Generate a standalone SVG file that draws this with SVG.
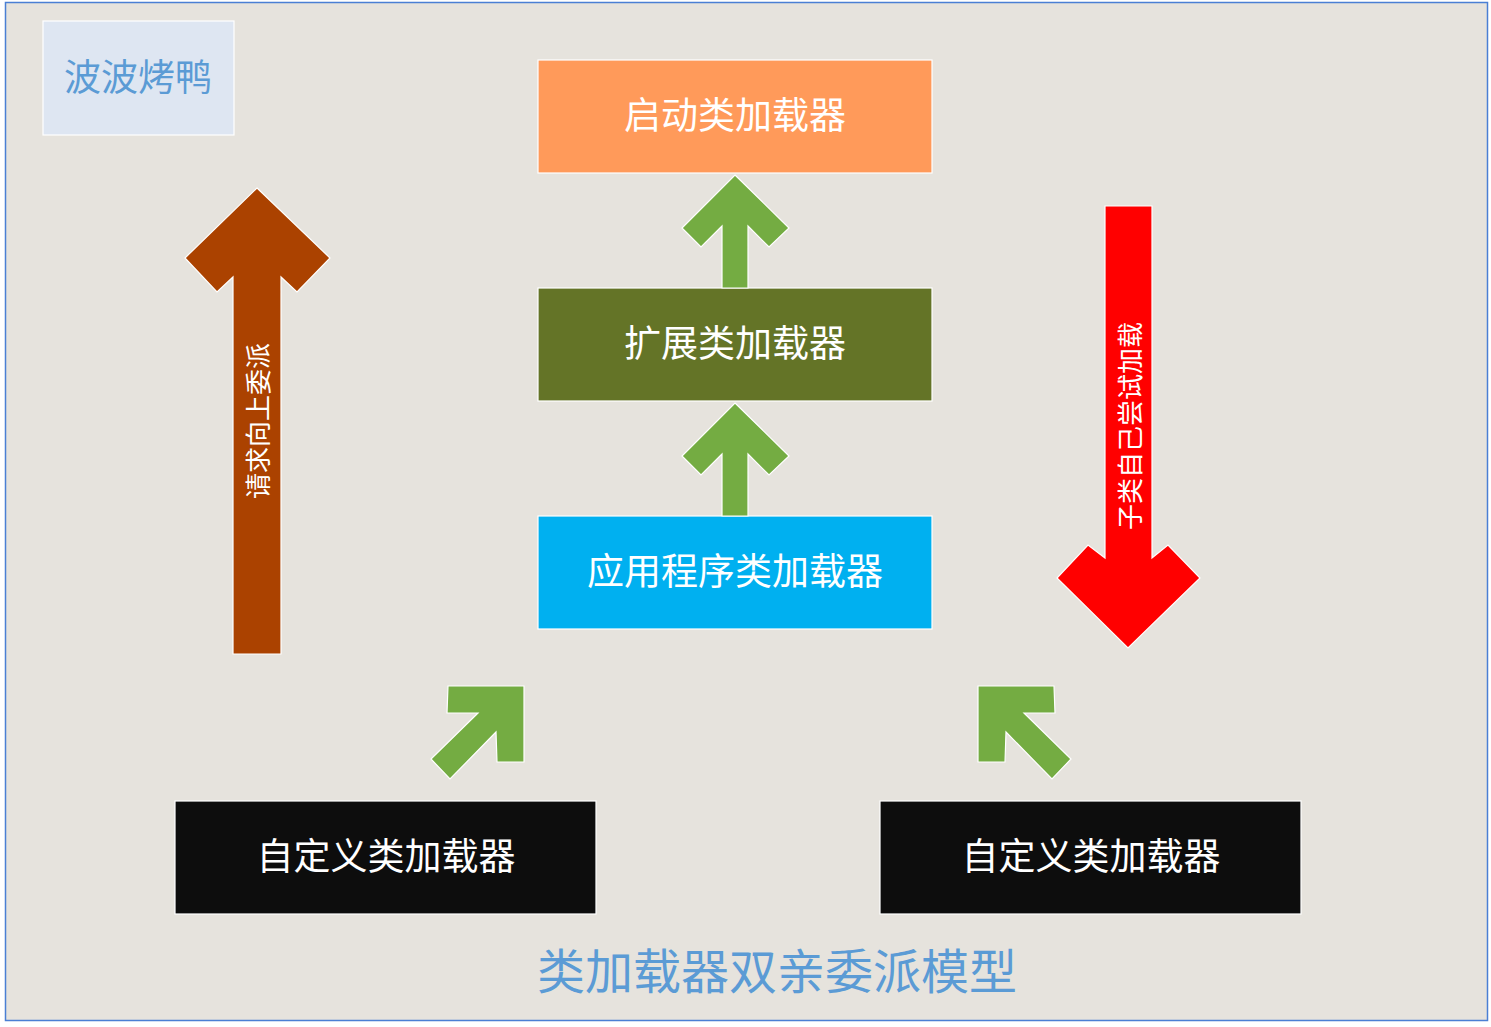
<svg xmlns="http://www.w3.org/2000/svg" width="1491" height="1027" viewBox="0 0 1491 1027">
<style>
.node{stroke:#FFFFFF;stroke-width:1.2}
.t{font-family:"Noto Sans CJK SC","Noto Sans",sans-serif;fill:#FFFFFF;text-anchor:middle;dominant-baseline:central}
.big{font-size:37px}
.blue{fill:#5B9BD5}
.arr{stroke:#FFFFFF;stroke-width:1.2;stroke-linejoin:miter}
.green{fill:#74AC42}
.vt{font-size:26px}
</style>
<rect x="0" y="0" width="1491" height="1027" fill="#FFFFFF"/>
<rect x="5.5" y="2.5" width="1482" height="1018" fill="#E6E3DD" stroke="#4A7FD4" stroke-width="1.5"/>

<g id="brand">
<rect class="node" x="43" y="21" width="191" height="114" fill="#DEE6F2"/>
<text class="t big blue" x="138" y="75">波波烤鸭</text>
</g>

<g id="bootstrap">
<rect class="node" x="538" y="60" width="394" height="113" fill="#FF9A5A"/>
<text class="t big" x="735" y="113">启动类加载器</text>
</g>

<g id="ext">
<rect class="node" x="538" y="288" width="394" height="113" fill="#647427"/>
<text class="t big" x="735" y="341">扩展类加载器</text>
</g>

<g id="app">
<rect class="node" x="538" y="516" width="394" height="113" fill="#00B0F0"/>
<text class="t big" x="735" y="569">应用程序类加载器</text>
</g>

<g id="custom1">
<rect class="node" x="175" y="801" width="421" height="113" fill="#0D0D0D"/>
<text class="t big" x="386" y="854">自定义类加载器</text>
</g>

<g id="custom2">
<rect class="node" x="880" y="801" width="421" height="113" fill="#0D0D0D"/>
<text class="t big" x="1091" y="854">自定义类加载器</text>
</g>

<g id="connectors">
<polygon class="arr green" points="735,175 789,228 769,247 748,226 748,288 722,288 722,226 701,247 682,228"/>
<polygon class="arr green" points="735,403 789,456 769,475 748,454 748,516 722,516 722,454 701,475 682,456"/>
<polygon class="arr green" points="448,686 524,686 524,762 497,762 496,732 450,779 431,759 478,713 447,713"/>
<polygon class="arr green" points="1054,686 978,686 978,762 1005,762 1006,732 1052,779 1071,759 1024,713 1055,713"/>
<g id="delegate-up">
<polygon class="arr" fill="#AB4200" points="257,188 330,258 297,292 281,277 281,654 233,654 233,277 217,292 185,258"/>
<text class="t vt" transform="translate(256,421) rotate(-90)" x="0" y="0">请求向上委派</text>
</g>
<g id="load-down">
<polygon class="arr" fill="#FF0000" points="1105,206 1152,206 1152,558 1168,545 1200,578 1128,648 1057,578 1088,545 1105,558"/>
<text class="t vt" transform="translate(1128,426) rotate(-90)" x="0" y="0">子类自己尝试加载</text>
</g>
</g>

<g id="title">
<text class="t blue" style="font-size:48px" x="777" y="968">类加载器双亲委派模型</text>
</g>
</svg>
